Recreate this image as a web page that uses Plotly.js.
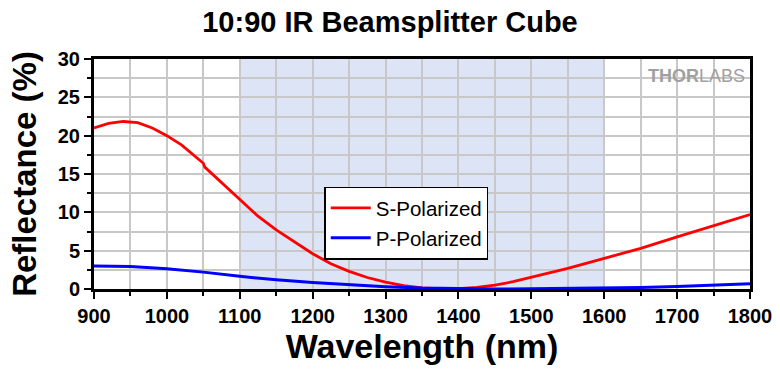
<!DOCTYPE html>
<html><head><meta charset="utf-8">
<script src="https://cdn.plot.ly/plotly-3.0.1.min.js"></script>
<style>body{margin:0;background:#fff}#c{width:780px;height:370px}</style>
</head><body><div id="c"></div>
<script>
const sWave = [900,920,940,960,980,1000,1020,1040,1050,1052,1075,1100,1125,1150,1175,1200,1225,1250,1275,1300,1325,1350,1375,1400,1425,1450,1475,1500,1550,1600,1650,1700,1750,1800];
const sRefl = [21.0,21.6,21.85,21.7,21.0,20.0,18.8,17.2,16.4,15.9,13.9,11.6,9.5,7.7,6.1,4.6,3.3,2.3,1.5,0.9,0.45,0.15,0.03,0.05,0.2,0.5,0.95,1.5,2.7,4.0,5.3,6.8,8.3,9.7];
const pWave = [900,950,1000,1050,1100,1150,1200,1250,1300,1350,1400,1450,1500,1550,1600,1650,1700,1750,1800];
const pRefl = [3.0,2.95,2.65,2.2,1.65,1.2,0.85,0.55,0.3,0.12,0.03,0.0,0.02,0.06,0.12,0.2,0.32,0.48,0.7];
const shadeRange = [1100,1600];
const xTicks = [900,1000,1100,1200,1300,1400,1500,1600,1700,1800];
const yTicks = [0,5,10,15,20,25,30];

const F = 'Liberation Sans, Arial, sans-serif';
const FN = 'Liberation Sans Narrow, Arial Narrow, Liberation Sans, sans-serif';
const traces = [
  {x:sWave,y:sRefl,name:'S-Polarized',mode:'lines',line:{color:'#ff0000',width:2.8}},
  {x:pWave,y:pRefl,name:'P-Polarized',mode:'lines',line:{color:'#0000ff',width:3}}
];
const layout = {
  width:780,height:370,
  margin:{l:94,r:30,t:59,b:81},
  paper_bgcolor:'#fff',plot_bgcolor:'#fff',
  title:{text:'<b>10:90 IR Beamsplitter Cube</b>',x:0.5,xanchor:'center',y:0.94,yanchor:'middle',font:{family:F,size:29,color:'#000'}},
  xaxis:{range:[900,1800],tickvals:xTicks,ticktext:xTicks.map(v=>'<b>'+v+'</b>'),
    tickfont:{family:FN,size:20,color:'#000'},ticks:'outside',ticklen:7,tickwidth:2,tickcolor:'#000',
    minor:{dtick:50,ticks:'outside',ticklen:4,tickwidth:2,tickcolor:'#000',showgrid:true,gridcolor:'#c8c8c8',gridwidth:2},
    showgrid:true,gridcolor:'#c8c8c8',gridwidth:2,showline:true,linecolor:'#000',linewidth:3,mirror:true,zeroline:false,
    title:{text:'<b>Wavelength (nm)</b>',font:{family:F,size:34,color:'#000'},standoff:4}},
  yaxis:{range:[0,30],tickvals:yTicks,ticktext:yTicks.map(v=>'<b>'+v+'</b>'),
    tickfont:{family:FN,size:20,color:'#000'},ticks:'outside',ticklen:7,tickwidth:2,tickcolor:'#000',
    minor:{dtick:2.5,ticks:'outside',ticklen:4,tickwidth:2,tickcolor:'#000',showgrid:true,gridcolor:'#c8c8c8',gridwidth:2},
    showgrid:true,gridcolor:'#c8c8c8',gridwidth:2,showline:true,linecolor:'#000',linewidth:3,mirror:true,zeroline:false,
    title:{text:'<b>Reflectance (%)</b>',font:{family:F,size:33,color:'#000'},standoff:12}},
  shapes:[{type:'rect',xref:'x',yref:'paper',x0:shadeRange[0],x1:shadeRange[1],y0:0,y1:1,fillcolor:'#dce4f5',line:{width:0},layer:'below'}],
  legend:{x:0.351,y:0.445,xanchor:'left',yanchor:'top',bgcolor:'#fff',bordercolor:'#000',borderwidth:1.5,
    font:{family:F,size:20.5,color:'#000'},tracegroupgap:0,itemwidth:40},
  annotations:[{xref:'paper',yref:'paper',x:0.995,y:0.925,xanchor:'right',yanchor:'middle',showarrow:false,
    text:'<b>THOR</b>LABS',font:{family:F,size:18,color:'#a0a0a0'}}],
  showlegend:true
};
Plotly.newPlot('c',traces,layout,{displayModeBar:false,staticPlot:true});
</script></body></html>
